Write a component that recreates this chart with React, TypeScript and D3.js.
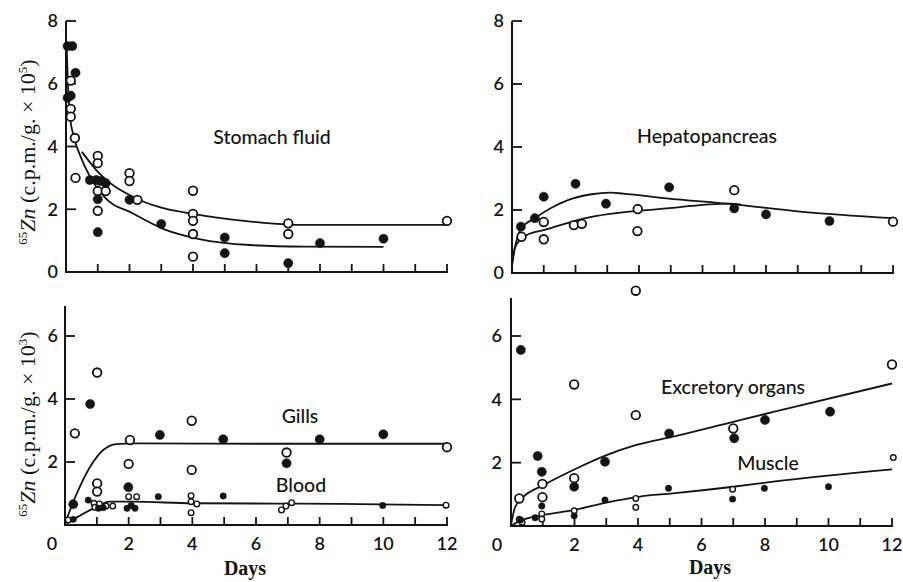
import React from 'react';
import * as d3 from 'd3';

type P = [number, number];

// ---------- Stomach fluid ----------
const stomachFilled: P[] = [[0.05,7.2],[0.2,7.2],[0.3,6.35],[0.05,5.55],[0.15,5.62],[0.75,2.93],[0.95,2.93],[1.08,2.9],[1.25,2.83],[1.0,2.32],[1.0,1.27],[2.0,2.3],[3.0,1.53],[5.0,1.1],[5.0,0.6],[7.0,0.28],[8.0,0.92],[10.0,1.06]];
const stomachOpen: P[] = [[0.15,6.1],[0.15,5.2],[0.15,4.95],[0.28,4.27],[0.3,3.0],[1.0,3.7],[1.0,3.47],[1.0,2.58],[1.25,2.58],[1.0,1.95],[2.0,3.15],[2.0,2.9],[2.25,2.3],[4,2.59],[4,1.85],[4,1.63],[4,1.21],[4,0.49],[7,1.55],[7,1.21],[12,1.63]];
const stomachCurveFilled: P[] = [[0.02,7.2],[0.06,6.0],[0.12,5.0],[0.25,4.3],[0.45,3.7],[0.75,3.05],[1.2,2.4],[2.1,1.87],[3.1,1.36],[4.2,1.05],[5.8,0.86],[7.5,0.81],[10,0.8]];
const stomachCurveOpen: P[] = [[0.5,3.83],[1.04,3.15],[2.1,2.4],[3.0,2.05],[3.9,1.87],[5.9,1.6],[7.4,1.5],[12,1.5]];

// ---------- Hepatopancreas ----------
const hepFilled: P[] = [[0.28,1.47],[0.72,1.74],[1,2.42],[2,2.83],[2.96,2.2],[4.95,2.72],[7,2.05],[8,1.86],[10,1.65]];
const hepOpen: P[] = [[0.3,1.15],[1,1.62],[1,1.07],[1.95,1.52],[2.2,1.56],[3.96,2.03],[3.95,1.33],[7,2.63],[12,1.63]];
const hepCurveFilled: P[] = [[0,0.3],[0.1,0.85],[0.28,1.4],[0.72,1.74],[1.2,2.05],[1.72,2.3],[2.5,2.5],[3.1,2.55],[3.5,2.52],[4.87,2.37],[6.97,2.18],[9.07,1.95],[12,1.74]];
const hepCurveOpen: P[] = [[0,0.2],[0.1,0.83],[0.46,1.2],[1,1.36],[2.25,1.73],[4.87,2.05],[6.87,2.2],[7.2,2.18]];

// ---------- Gills / Blood ----------
const gillsFilled: P[] = [[0.26,0.66],[0.79,3.84],[1.99,1.2],[2.98,2.86],[4.97,2.72],[6.96,1.96],[8,2.72],[10,2.88]];
const gillsOpen: P[] = [[0.31,2.91],[1.01,4.84],[1.01,1.32],[1.01,1.06],[2.04,2.7],[2,1.94],[3.98,3.31],[3.98,1.75],[6.96,2.3],[12,2.47]];
const bloodFilled: P[] = [[0.26,0.18],[0.73,0.79],[1.05,0.53],[1.2,0.55],[1.95,0.53],[2.2,0.53],[2.08,0.62],[2.93,0.9],[4.97,0.92],[9.98,0.62]];
const bloodOpen: P[] = [[0.1,0.16],[0.91,0.69],[1.08,0.67],[1.29,0.6],[0.94,0.56],[1.5,0.6],[2,0.9],[2.25,0.9],[3.96,0.93],[3.96,0.74],[4.14,0.67],[3.96,0.39],[6.8,0.48],[6.94,0.6],[7.12,0.71],[11.97,0.63]];
const gillsCurve: P[] = [[0,0.05],[0.37,1.0],[0.79,1.85],[1.2,2.38],[1.62,2.57],[2.15,2.59],[6,2.58],[12,2.58]];
const bloodCurve: P[] = [[0.05,0.05],[0.3,0.2],[1,0.58],[1.4,0.74],[2.15,0.74],[4,0.69],[6.7,0.68],[7.3,0.68],[12,0.63]];

// ---------- Excretory organs / Muscle ----------
const excFilled: P[] = [[0.31,5.56],[0.84,2.21],[0.97,1.71],[1.99,1.24],[2.96,2.03],[4.98,2.92],[7.03,2.77],[8,3.35],[10.05,3.61]];
const excOpen: P[] = [[0.26,0.87],[0.99,1.33],[0.99,0.91],[1.99,4.47],[1.99,1.51],[3.93,3.5],[3.93,7.43],[7,3.08],[12,5.1]];
const muscleFilled: P[] = [[0.3,0.19],[0.76,0.26],[0.97,0.63],[1.99,0.32],[2.96,0.82],[4.96,1.19],[6.98,0.85],[7.98,1.19],[10,1.24]];
const muscleOpen: P[] = [[0.26,0.21],[0.35,0.12],[0.97,0.38],[0.97,0.22],[1.99,0.48],[3.93,0.87],[3.93,0.59],[6.98,1.16],[12.04,2.16]];
const excCurve: P[] = [[0,0.03],[0.13,0.6],[0.39,0.92],[1.02,1.29],[1.96,1.77],[3.01,2.24],[3.95,2.56],[5.1,2.82],[7,3.29],[8.3,3.61],[12,4.5]];
const muscleCurve: P[] = [[0,0],[0.28,0.16],[1.02,0.35],[1.96,0.5],[3,0.74],[4.06,0.93],[5.1,1.03],[7,1.24],[8.26,1.4],[12,1.79]];

const topYTicks = [0, 2, 4, 6, 8];
const bottomYTicks = [2, 4, 6];
const dayTicks = [1,2,3,4,5,6,7,8,9,10,11,12];
const dayLabels = [2,4,6,8,10,12];

const INK = '#141414';
const SANS = 'Lato, "Open Sans", sans-serif';
const SERIF = '"Liberation Serif", "DejaVu Serif", serif';

interface Series { pts: P[]; filled: boolean; r: number; }
interface Label { text: string; x: number; y: number; }

interface PanelProps {
  x0: number; x1: number; y0: number; yTopPx: number; yMaxDomain: number; axisTop: number;
  yTicks: number[]; yLabelX: number; zeroLabel?: { x: number; y: number };
  xLabels: boolean; series: Series[]; curves: P[][]; labels: Label[];
}

function Panel(p: PanelProps) {
  const x = d3.scaleLinear().domain([0, 12]).range([p.x0, p.x1]);
  const y = d3.scaleLinear().domain([0, p.yMaxDomain]).range([p.y0, p.yTopPx]);
  const line = d3.line<P>().x(d => x(d[0])).y(d => y(d[1])).curve(d3.curveMonotoneX);
  return (
    <g>
      <line x1={x(0)} x2={x(0)} y1={y(0) + 1} y2={y(p.axisTop)} stroke={INK} strokeWidth={2} />
      <line x1={x(0) - 1} x2={x(12) + 1} y1={y(0)} y2={y(0)} stroke={INK} strokeWidth={2} />
      {dayTicks.map(t => (
        <line key={'xt' + t} x1={x(t)} x2={x(t)} y1={y(0)} y2={y(0) - 8} stroke={INK} strokeWidth={1.8} />
      ))}
      {p.yTicks.filter(t => t > 0).map(t => (
        <line key={'yt' + t} x1={x(0)} x2={x(0) + 10} y1={y(t)} y2={y(t)} stroke={INK} strokeWidth={1.8} />
      ))}
      {p.yTicks.map(t => (
        <text key={'yl' + t} x={p.yLabelX} y={y(t)} dy="0.36em" textAnchor="end" fontFamily={SANS} fontSize={18} fontWeight={600} fill={INK}>{t}</text>
      ))}
      {p.zeroLabel && (
        <text x={p.zeroLabel.x} y={p.zeroLabel.y} dy="0.36em" textAnchor="middle" fontFamily={SANS} fontSize={18} fontWeight={600} fill={INK}>0</text>
      )}
      {p.xLabels && dayLabels.map(t => (
        <text key={'xl' + t} x={x(t)} y={y(0) + 19} dy="0.36em" textAnchor="middle" fontFamily={SANS} fontSize={18} fontWeight={600} fill={INK}>{t}</text>
      ))}
      {p.curves.map((c, i) => (
        <path key={'c' + i} d={line(c) || ''} fill="none" stroke={INK} strokeWidth={1.8} />
      ))}
      {p.series.map((s, i) => s.pts.map((d, j) => (
        <circle key={'p' + i + '-' + j} cx={x(d[0])} cy={y(d[1])} r={s.r}
          fill={s.filled ? INK : '#fff'} stroke={INK} strokeWidth={s.filled ? 0.5 : (s.r > 3.5 ? 1.8 : 1.4)} />
      )))}
      {p.labels.map((l, i) => (
        <text key={'l' + i} x={l.x} y={l.y} dy="0.36em" textAnchor="middle" fontFamily={SANS} fontSize={19.5} fontWeight={500} fill={INK}>{l.text}</text>
      ))}
    </g>
  );
}

function YTitle({ x, y, exp }: { x: number; y: number; exp: string }) {
  return (
    <text transform={`translate(${x},${y}) rotate(-90)`} textAnchor="middle" fontFamily={SERIF} fontSize={22} fill={INK}>
      <tspan fontSize={13} dy={-8}>65</tspan>
      <tspan dy={8} fontStyle="italic">Zn</tspan>
      <tspan> (c.p.m./g. × 10</tspan>
      <tspan fontSize={13} dy={-8}>{exp}</tspan>
      <tspan dy={8}>)</tspan>
    </text>
  );
}

export default function App() {
  return (
    <svg width={903} height={582} viewBox="0 0 903 582" style={{ position: 'absolute', left: 0, top: 0, background: '#fff' }}>
      <rect width={903} height={582} fill="#fff" />
      <Panel x0={66} x1={447} y0={272} yTopPx={21} yMaxDomain={8} axisTop={8}
        yTicks={topYTicks} yLabelX={58} xLabels={false}
        series={[{ pts: stomachOpen, filled: false, r: 4.3 }, { pts: stomachFilled, filled: true, r: 4.6 }]}
        curves={[stomachCurveFilled, stomachCurveOpen]}
        labels={[{ text: 'Stomach fluid', x: 272, y: 137 }]} />
      <Panel x0={512} x1={893} y0={273} yTopPx={21} yMaxDomain={8} axisTop={8}
        yTicks={topYTicks} yLabelX={504} xLabels={false}
        series={[{ pts: hepOpen, filled: false, r: 4.3 }, { pts: hepFilled, filled: true, r: 4.6 }]}
        curves={[hepCurveFilled, hepCurveOpen]}
        labels={[{ text: 'Hepatopancreas', x: 707, y: 136 }]} />
      <Panel x0={65} x1={447} y0={525} yTopPx={336} yMaxDomain={6} axisTop={6.95}
        yTicks={bottomYTicks} yLabelX={58} zeroLabel={{ x: 52, y: 544 }} xLabels={true}
        series={[{ pts: gillsOpen, filled: false, r: 4.3 }, { pts: gillsFilled, filled: true, r: 4.6 },
                 { pts: bloodOpen, filled: false, r: 2.8 }, { pts: bloodFilled, filled: true, r: 3.2 }]}
        curves={[gillsCurve, bloodCurve]}
        labels={[{ text: 'Gills', x: 300, y: 416 }, { text: 'Blood', x: 301, y: 485 }]} />
      <Panel x0={511} x1={892} y0={526} yTopPx={336} yMaxDomain={6} axisTop={7.2}
        yTicks={bottomYTicks} yLabelX={502} zeroLabel={{ x: 497, y: 545 }} xLabels={true}
        series={[{ pts: excOpen, filled: false, r: 4.3 }, { pts: excFilled, filled: true, r: 4.6 },
                 { pts: muscleOpen, filled: false, r: 2.8 }, { pts: muscleFilled, filled: true, r: 3.2 }]}
        curves={[excCurve, muscleCurve]}
        labels={[{ text: 'Excretory organs', x: 733, y: 387 }, { text: 'Muscle', x: 768, y: 463 }]} />
      <YTitle x={35} y={152} exp="5" />
      <YTitle x={35} y={424} exp="3" />
      <text x={245} y={568} dy="0.36em" textAnchor="middle" fontFamily={SERIF} fontSize={20} fontWeight={700} fill={INK}>Days</text>
      <text x={710} y={567} dy="0.36em" textAnchor="middle" fontFamily={SERIF} fontSize={20} fontWeight={700} fill={INK}>Days</text>
    </svg>
  );
}
